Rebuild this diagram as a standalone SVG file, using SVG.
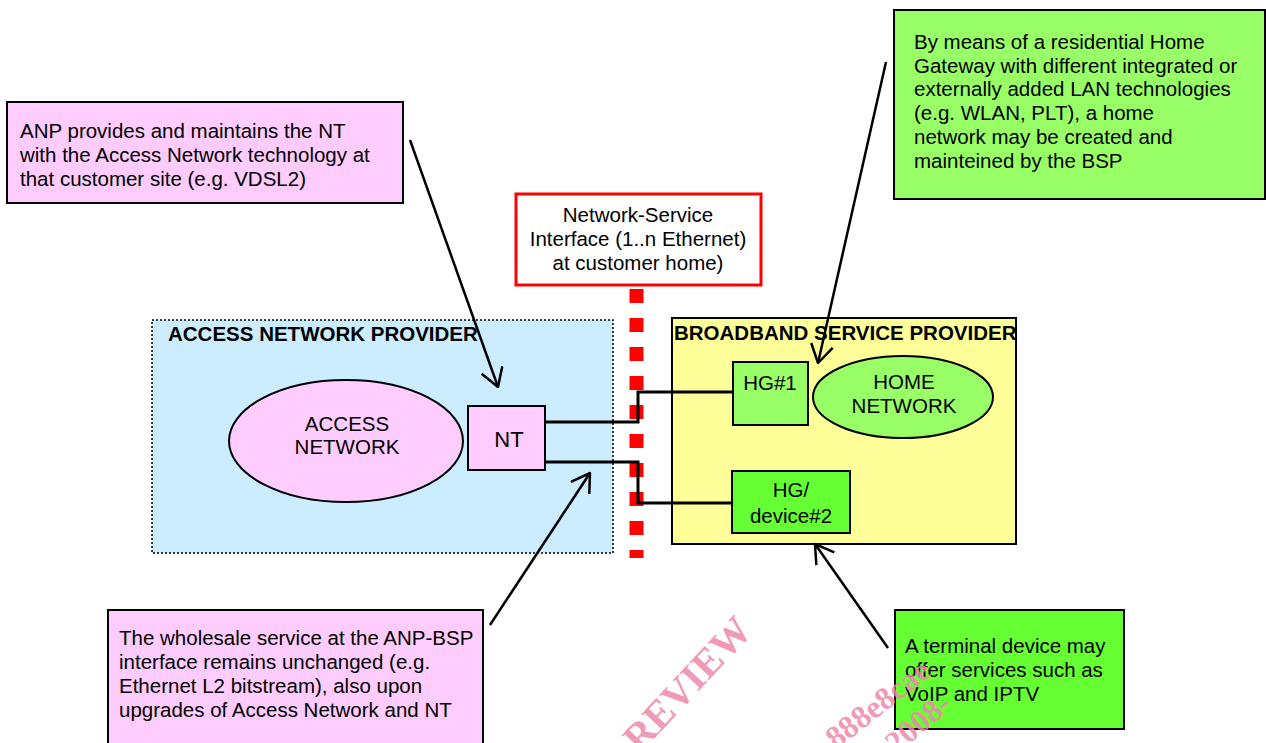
<svg xmlns="http://www.w3.org/2000/svg" width="1266" height="743" viewBox="0 0 1266 743">
<defs>
<style>
text{font-family:"Liberation Sans",Arial,sans-serif;font-size:20.5px;fill:#000}
.c{text-anchor:middle}
.b{font-weight:bold}
.box{stroke:#000;stroke-width:2}
.wire{fill:none;stroke:#000;stroke-width:3}
.arr{fill:none;stroke:#000;stroke-width:2.5;marker-end:url(#v)}
.wm{font-family:"Liberation Serif","Times New Roman",serif;font-weight:bold;fill:#EE88AA;fill-opacity:0.85}
</style>
<marker id="v" viewBox="0 0 20 24" refX="19" refY="12" markerWidth="20" markerHeight="24" markerUnits="userSpaceOnUse" orient="auto">
<path d="M1,1 L19,12 L1,23" fill="none" stroke="#000" stroke-width="2.5"/>
</marker>
</defs>

<g id="anp-region">
<rect x="152" y="320" width="461" height="233" fill="#CCECFF" stroke="#000" stroke-width="1.5" stroke-dasharray="2,2"/>
<text class="b" x="168" y="341">ACCESS NETWORK PROVIDER</text>
</g>

<g id="bsp-region">
<rect x="672" y="318" width="344" height="226" fill="#FFFF99" class="box"/>
<text class="b" x="674" y="340">BROADBAND SERVICE PROVIDER</text>
</g>

<g id="interface-line">
<line x1="636.5" y1="289" x2="636.5" y2="558" stroke="#FF0000" stroke-width="14" stroke-dasharray="14,15"/>
</g>

<g id="nsi-box">
<rect x="516" y="194" width="245" height="91" fill="#fff" stroke="#FF0000" stroke-width="3"/>
<text class="c" x="638" y="222">Network-Service</text>
<text class="c" x="638" y="246">Interface (1..n Ethernet)</text>
<text class="c" x="638" y="270">at customer home)</text>
</g>

<g id="access-network">
<ellipse cx="346" cy="441" rx="117" ry="61" fill="#FFCCFF" class="box"/>
<text class="c" x="347" y="431">ACCESS</text>
<text class="c" x="347" y="454">NETWORK</text>
</g>

<g id="nt">
<rect x="468" y="406" width="77" height="64" fill="#FFCCFF" class="box"/>
<text class="c" x="509" y="447" style="font-size:22px">NT</text>
</g>

<g id="hg1">
<rect x="733" y="362" width="75" height="63" fill="#99FF66" class="box"/>
<text class="c" x="770" y="390">HG#1</text>
</g>

<g id="home-network">
<ellipse cx="903" cy="397" rx="90" ry="41" fill="#99FF66" class="box"/>
<text class="c" x="904" y="389">HOME</text>
<text class="c" x="904" y="413">NETWORK</text>
</g>

<g id="hg2">
<rect x="732" y="471" width="118" height="62" fill="#66FF33" class="box"/>
<text class="c" x="791" y="497">HG/</text>
<text class="c" x="791" y="523">device#2</text>
</g>

<g id="note-nt">
<rect x="7" y="102" width="396" height="101" fill="#FFCCFF" class="box"/>
<text x="20" y="138">ANP provides and maintains the NT</text>
<text x="20" y="162">with the Access Network technology at</text>
<text x="20" y="186">that customer site (e.g. VDSL2)</text>
</g>

<g id="note-home">
<rect x="894" y="10" width="371" height="189" fill="#99FF66" class="box"/>
<text x="914" y="49">By means of a residential Home</text>
<text x="914" y="73">Gateway with different integrated or</text>
<text x="914" y="96">externally added LAN technologies</text>
<text x="914" y="120">(e.g. WLAN, PLT), a home</text>
<text x="914" y="144">network may be created and</text>
<text x="914" y="168">mainteined by the BSP</text>
</g>

<g id="note-wholesale">
<rect x="108" y="610" width="375" height="150" fill="#FFCCFF" class="box"/>
<text x="119" y="645">The wholesale service at the ANP-BSP</text>
<text x="119" y="669">interface remains unchanged (e.g.</text>
<text x="119" y="693">Ethernet L2 bitstream), also upon</text>
<text x="119" y="717">upgrades of Access Network and NT</text>
</g>

<g id="note-terminal">
<rect x="895" y="610" width="229" height="119" fill="#66FF33" class="box"/>
<text x="905" y="653">A terminal device may</text>
<text x="905" y="677">offer services such as</text>
<text x="905" y="701">VoIP and IPTV</text>
</g>

<g id="connectors">
<polyline class="wire" points="545,422 638,422 638,392 733,392"/>
<polyline class="wire" points="545,462 638,462 638,503 732,503"/>
<line class="arr" x1="410" y1="140" x2="498" y2="387"/>
<line class="arr" x1="490" y1="625" x2="590" y2="473"/>
<line class="arr" x1="886" y1="62" x2="818" y2="363"/>
<line class="arr" x1="888" y1="648" x2="815" y2="544"/>
</g>

<g id="watermark">
<text class="wm" x="0" y="0" style="font-size:40px" transform="translate(640,754) rotate(-47)">REVIEW</text>
<text class="wm" x="0" y="0" style="font-size:32px" transform="translate(836,750) rotate(-38)">888e8cae</text>
<text class="wm" x="0" y="0" style="font-size:32px" transform="translate(888,762) rotate(-40)">-2008-</text>
</g>
</svg>
